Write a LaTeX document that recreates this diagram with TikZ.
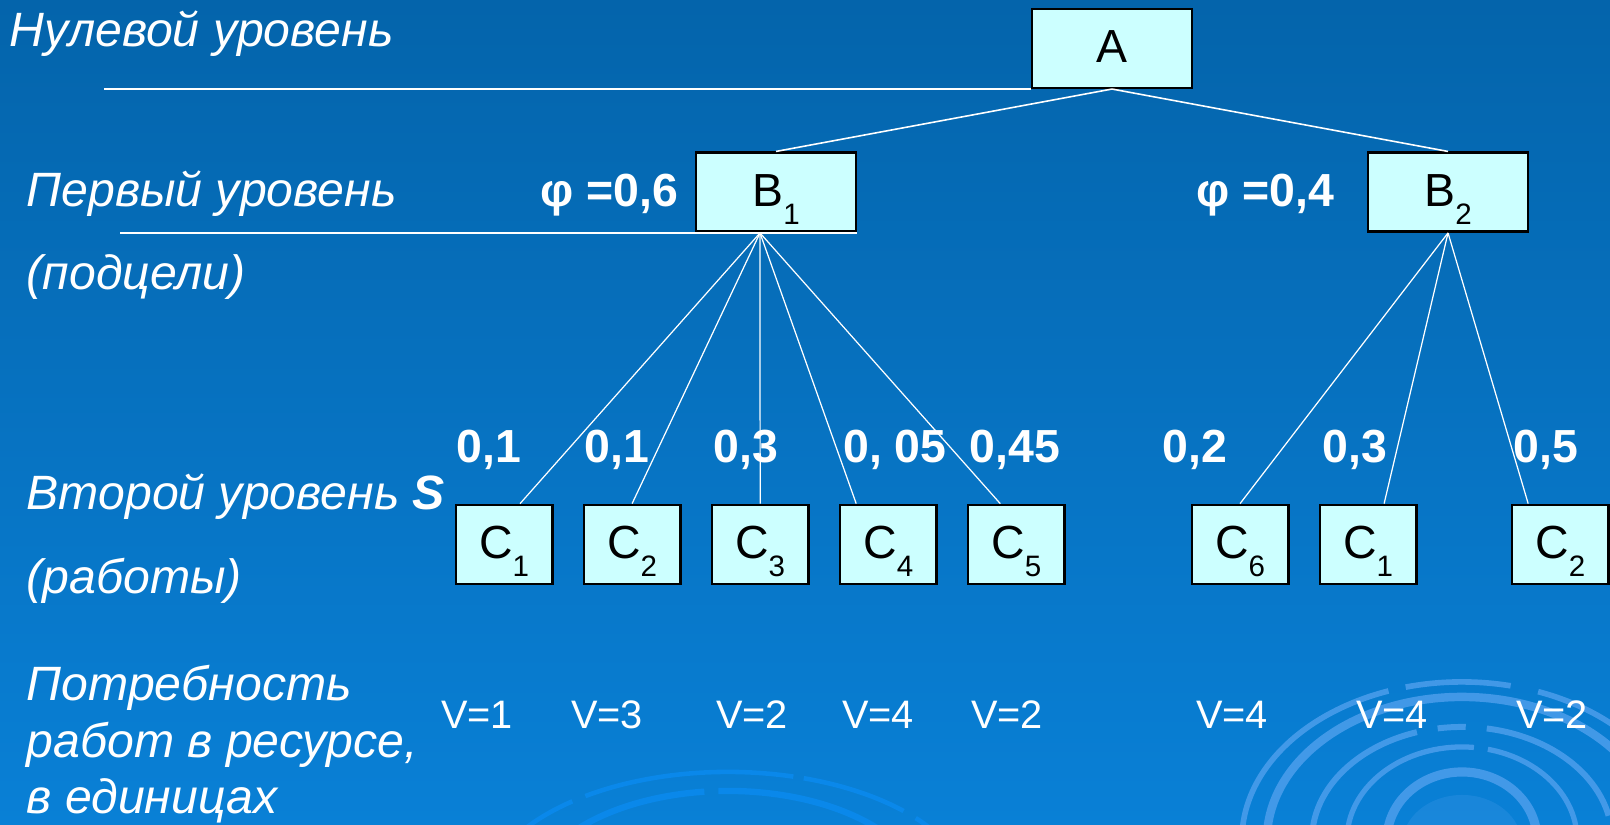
\documentclass[tikz,border=0pt]{standalone}
\usepackage{fontspec}
\setmainfont{Liberation Sans}
\usetikzlibrary{positioning,calc}
\definecolor{slidetop}{HTML}{0464AB}
\definecolor{slidebot}{HTML}{0980D6}
\definecolor{boxfill}{HTML}{CCFFFF}
\definecolor{ringblue}{HTML}{4C9EEC}
\definecolor{ringdeep}{HTML}{0A88EA}
\newcommand{\lo}[1]{\raisebox{-5pt}{\fontsize{8.4}{10}\selectfont #1}}
\begin{document}
\begin{tikzpicture}[x=0.01cm,y=-0.01cm,node distance=1.28cm]
\tikzstyle{goal}=[draw=black,line width=0.7pt,fill=boxfill,inner sep=0pt,minimum width=1.6cm,minimum height=0.79cm,text height=10pt,text depth=1.8pt,font=\fontsize{13.2}{16}\selectfont]
\tikzstyle{work}=[goal,minimum width=0.965cm]
\tikzstyle{lvl}=[white,anchor=base west,inner sep=0pt,font=\fontsize{13.7}{16}\selectfont\itshape]
\tikzstyle{wt}=[white,anchor=base,inner sep=0pt,font=\fontsize{13.2}{16}\selectfont\bfseries]
\tikzstyle{need}=[white,anchor=base,inner sep=0pt,font=\fontsize{11.3}{14}\selectfont]
\tikzstyle{tie}=[white,line width=0.35pt]
\tikzstyle{hline}=[white,line width=0.55pt]
\tikzstyle{rings}=[ringblue,opacity=0.85]
\useasboundingbox (0,0) rectangle (1610,825);
\shade[top color=slidetop,bottom color=slidebot] (0,0) rectangle (1610,825);
\begin{scope}
\clip (0,0) rectangle (1610,825);
\fill[ringblue,opacity=0.25] (1462,845) ellipse [x radius=0.6cm,y radius=0.5cm];
\draw[rings,line width=1.6pt,dash pattern=on 60pt off 5pt on 30pt off 8pt] ([shift={(175:2.2cm and 1.58cm)}]1462,840) arc[start angle=175,end angle=0,x radius=2.2cm,y radius=1.58cm];
\draw[rings,line width=2.4pt] ([shift={(178:1.95cm and 1.43cm)}]1462,840) arc[start angle=178,end angle=0,x radius=1.95cm,y radius=1.43cm];
\draw[rings,line width=1.7pt,dash pattern=on 45pt off 6pt on 8pt off 6pt] ([shift={(178:1.5cm and 1.13cm)}]1462,840) arc[start angle=178,end angle=0,x radius=1.5cm,y radius=1.13cm];
\draw[rings,line width=1.5pt,dash pattern=on 50pt off 4pt] ([shift={(180:1.15cm and 0.93cm)}]1462,840) arc[start angle=180,end angle=0,x radius=1.15cm,y radius=0.93cm];
\draw[rings,line width=2.6pt] ([shift={(180:0.75cm and 0.68cm)}]1462,840) arc[start angle=180,end angle=0,x radius=0.75cm,y radius=0.68cm];
\draw[ringdeep,line width=1.3pt,dash pattern=on 30pt off 4pt on 60pt off 3pt] ([shift={(165:2.44cm and 1.28cm)}]728,900) arc[start angle=165,end angle=15,x radius=2.44cm,y radius=1.28cm];
\draw[ringdeep,line width=1.8pt,dash pattern=on 55pt off 4pt] ([shift={(165:1.98cm and 1.09cm)}]728,900) arc[start angle=165,end angle=15,x radius=1.98cm,y radius=1.09cm];
\end{scope}
\node[lvl] (l0) at (9,47) {Нулевой уровень};
\node[lvl] (l1) at (26,207) {Первый уровень};
\node[lvl] (l1b) at (26,290) {(подцели)};
\node[lvl] (l2) at (26,510) {Второй уровень \textbf{S}};
\node[lvl] (l2b) at (26,593) {(работы)};
\node[lvl] (l3) at (26,700) {Потребность};
\node[lvl] (l3b) at (26,757) {работ в ресурсе,};
\node[lvl] (l3c) at (26,813) {в единицах};
\node[goal] (a) at (1112,48.3) {A};
\node[goal] (b1) at (776,192.2) {B\lo{1}};
\node[goal] (b2) at (1448,192.2) {B\lo{2}};
\node[wt,anchor=base east] (phi1) at (679,207) {φ =0,6};
\node[wt,anchor=base east] (phi2) at (1335,207) {φ =0,4};
\node[work] (c1) at (504,544.4) {C\lo{1}};
\node[work] (c2) [right of=c1] {C\lo{2}};
\node[work] (c3) [right of=c2] {C\lo{3}};
\node[work] (c4) [right of=c3] {C\lo{4}};
\node[work] (c5) [right of=c4] {C\lo{5}};
\node[work] (c6) at (1240,544.4) {C\lo{6}};
\node[work] (c1') [right of=c6] {C\lo{1}};
\node[work] (c2') [right of=c1',xshift=0.64cm] {C\lo{2}};
\node[wt] (w1) at (489,463) {0,1};
\node[wt] (w2) at (617,463) {0,1};
\node[wt] (w3) at (746,463) {0,3};
\node[wt] (w4) at (895,463) {0, 05};
\node[wt] (w5) at (1015,463) {0,45};
\node[wt] (w6) at (1195,463) {0,2};
\node[wt] (w7) at (1355,463) {0,3};
\node[wt] (w8) at (1546,463) {0,5};
\node[need] (v1) at (477,728) {V=1};
\node[need] (v2) at (607,728) {V=3};
\node[need] (v3) at (752,728) {V=2};
\node[need] (v4) at (878,728) {V=4};
\node[need] (v5) at (1007,728) {V=2};
\node[need] (v6) at (1232,728) {V=4};
\node[need] (v7) at (1392,728) {V=4};
\node[need] (v8) at (1552,728) {V=2};
\coordinate (h0) at (104,88.7);
\coordinate (h1) at (120,233);
\coordinate (fan) at ([xshift=-0.16cm]b1.south);
\draw[hline] (h0) -- (h0 -| a.west);
\draw[hline] (h1) -- (h1 -| b1.east);
\draw[tie,line width=0.45pt] (a.south) -- (b1.north);
\draw[tie,line width=0.45pt] (a.south) -- (b2.north);
\draw[tie] (fan) -- ([xshift=0.16cm]c1.north);
\draw[tie] (fan) -- (c2.north);
\draw[tie] (fan) -- (c3.north);
\draw[tie] (fan) -- ([xshift=-0.32cm]c4.north);
\draw[tie] (fan) -- ([xshift=-0.16cm]c5.north);
\draw[tie] (b2.south) -- (c6.north);
\draw[tie] (b2.south) -- ([xshift=0.16cm]c1'.north);
\draw[tie] (b2.south) -- ([xshift=-0.32cm]c2'.north);
\end{tikzpicture}
\end{document}
